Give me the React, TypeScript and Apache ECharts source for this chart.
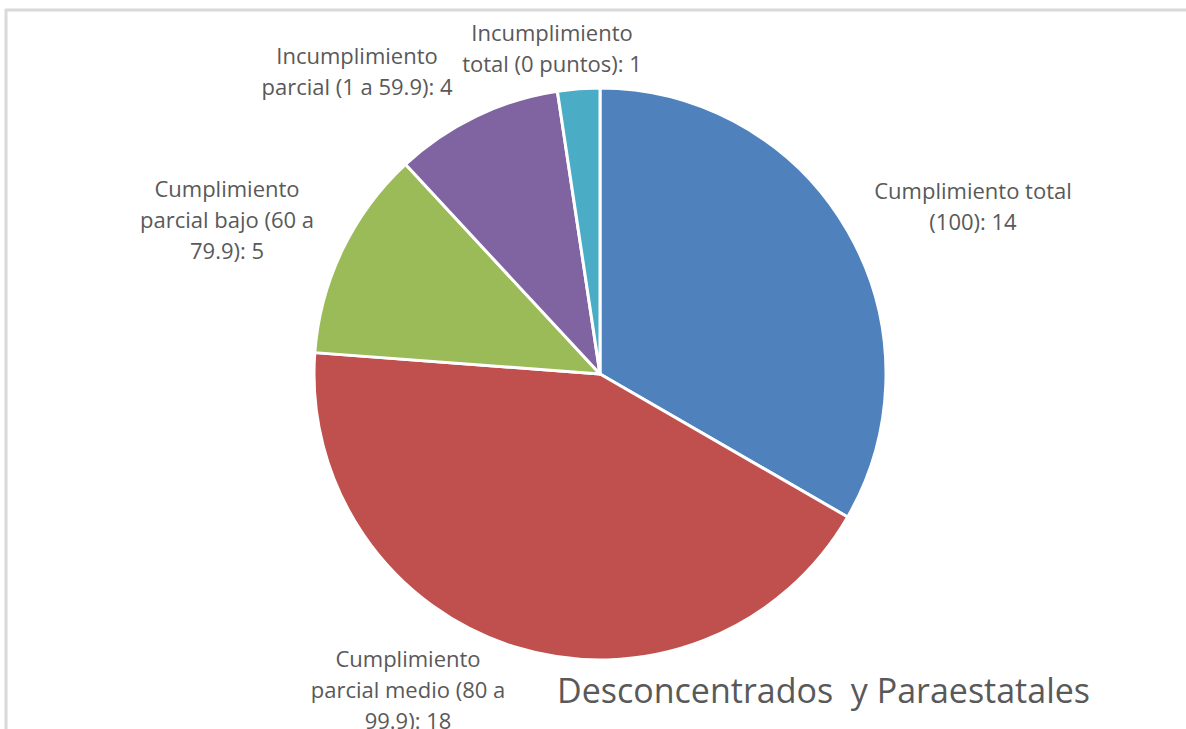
import React, { useEffect, useRef } from "react";
import * as echarts from "echarts";

const categories = [
  "Cumplimiento total (100)",
  "Cumplimiento parcial medio (80 a 99.9)",
  "Cumplimiento parcial bajo (60 a 79.9)",
  "Incumplimiento parcial (1 a 59.9)",
  "Incumplimiento total (0 puntos)",
];
const values = [14, 18, 5, 4, 1];
const colors = ["#4F81BD", "#C0504D", "#9BBB59", "#8064A2", "#4BACC6"];
const labelTemplates = [
  "Cumplimiento total\n(100): {c}",
  "Cumplimiento\nparcial medio (80 a\n99.9): {c}",
  "Cumplimiento\nparcial bajo (60 a\n79.9): {c}",
  "Incumplimiento\nparcial (1 a 59.9): {c}",
  "Incumplimiento\ntotal (0 puntos): {c}",
];
const labelCenters = [
  [973, 205],
  [408, 689],
  [227, 219],
  [357, 70],
  [552, 47],
];
const titleText = "Desconcentrados  y Paraestatales";

export default function App() {
  const ref = useRef<HTMLDivElement>(null);
  useEffect(() => {
    if (!ref.current) return;
    const chart = echarts.init(ref.current, undefined, { renderer: "svg" });
    const font = "'Open Sans', Lato, sans-serif";
    chart.setOption({
      animation: false,
      backgroundColor: "#ffffff",
      title: {
        text: titleText,
        left: 552,
        top: 668,
        textStyle: {
          fontFamily: font,
          fontSize: 34,
          fontWeight: "normal",
          color: "#595959",
        },
      },
      graphic: [
        {
          type: "line",
          shape: { x1: 5, y1: 10, x2: 1186, y2: 10 },
          style: { stroke: "#d9d9d9", lineWidth: 3 },
        },
        {
          type: "line",
          shape: { x1: 6, y1: 9, x2: 6, y2: 729 },
          style: { stroke: "#d9d9d9", lineWidth: 3 },
        },
      ],
      series: [
        {
          type: "pie",
          center: [600, 374],
          radius: 286,
          startAngle: 90,
          clockwise: true,
          avoidLabelOverlap: false,
          itemStyle: { borderColor: "#ffffff", borderWidth: 3 },
          label: {
            show: true,
            position: "outside",
            fontFamily: font,
            fontSize: 22,
            lineHeight: 31,
            color: "#595959",
            align: "center",
            formatter: (p: any) =>
              labelTemplates[p.dataIndex].replace("{c}", String(p.value)),
          },
          labelLine: { show: false },
          labelLayout: (p: any) => {
            const c = labelCenters[p.dataIndex];
            return { x: c[0], y: c[1], align: "center", verticalAlign: "middle" };
          },
          emphasis: { disabled: true },
          data: categories.map((name, i) => ({
            name,
            value: values[i],
            itemStyle: { color: colors[i] },
          })),
        },
      ],
    });
    return () => chart.dispose();
  }, []);
  return (
    <div
      ref={ref}
      style={{ position: "fixed", left: 0, top: 0, width: 1186, height: 729 }}
    />
  );
}
